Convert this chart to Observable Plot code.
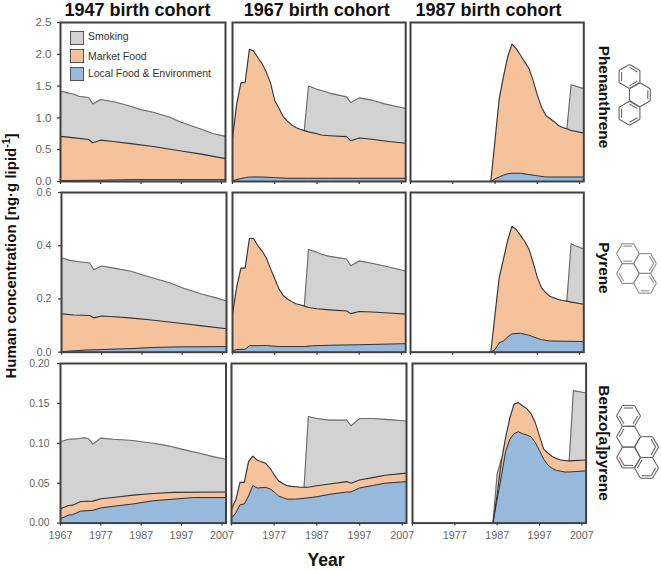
<!DOCTYPE html>
<html>
<head>
<meta charset="utf-8">
<script src="https://cdn.jsdelivr.net/npm/d3@7"></script>
<script src="https://cdn.jsdelivr.net/npm/@observablehq/plot@0.6"></script>
<style>
html,body{margin:0;padding:0;background:#fff}
#chart{position:relative;width:661px;height:570px;overflow:hidden;font-family:"Liberation Sans",Arial,sans-serif}
.lab{position:absolute;white-space:nowrap;line-height:1}
.title{font-weight:bold;font-size:18px;color:#111;transform:translateX(-50%)}
.rot{font-weight:bold;color:#111;font-size:15.4px;transform:translate(-50%,-50%) rotate(90deg)}
.leg{font-size:10.45px;color:#333}
.sw{position:absolute;width:14px;height:14px;border:1px solid #555;box-sizing:border-box}
sup{font-size:70%;line-height:0}
</style>
</head>
<body>
<div id="chart"></div>
<script>
// Cumulative tops of the stacked areas, as [year, value].
const phe47Total=[[1967,1.42],[1969,1.39],[1970,1.38],[1971.5,1.34],[1974,1.32],[1975,1.22],[1977,1.29],[1980.5,1.25],[1984,1.19],[1987,1.13],[1990,1.09],[1994,1.015],[1997,.93],[2002,.82],[2005,.75],[2008,.71]];
const phe47Market=[[1967,.71],[1970,.69],[1974,.66],[1975,.61],[1977,.65],[1980,.63],[1984,.6],[1990,.55],[1997,.48],[2002,.43],[2008,.36]];
const phe47Local=[[1967,.015],[1977,.02],[1985,.03],[2008,.03]];
const phe67Total=[[1984,.8],[1985,1.5],[1987,1.45],[1990,1.39],[1994,1.33],[1995,1.24],[1997,1.315],[2000,1.28],[2003,1.22],[2008,1.147]];
const phe67Market=[[1967,.68],[1968,1.22],[1969,1.55],[1970,1.56],[1971,2.08],[1972,2.05],[1973,1.95],[1974,1.85],[1975,1.72],[1976,1.55],[1977,1.27],[1978,1.15],[1979,1.02],[1980,.95],[1981,.89],[1982,.85],[1983,.82],[1984,.8],[1985,.78],[1987,.75],[1988,.73],[1990,.72],[1994,.705],[1995,.64],[1997,.685],[2000,.665],[2004,.63],[2008,.6]];
const phe67Local=[[1967,.01],[1968,.03],[1970,.06],[1971,.07],[1974,.07],[1977,.06],[1980,.05],[1985,.05],[1990,.05],[2008,.05]];
const phe87Total=[[2004,.83],[2005,1.52],[2008,1.46]];
const phe87Market=[[1986,0],[1987,.65],[1988,1.3],[1989,1.65],[1990,1.96],[1991,2.16],[1992,2.09],[1993,1.99],[1994,1.88],[1995,1.78],[1996,1.59],[1997,1.36],[1998,1.17],[1999,1.04],[2000,.99],[2001,.94],[2002,.88],[2003,.85],[2004,.83],[2005,.8],[2006,.79],[2008,.76]];
const phe87Local=[[1986,0],[1987,.04],[1988,.07],[1989,.1],[1990,.12],[1991,.13],[1993,.13],[1995,.11],[1997,.09],[1999,.07],[2008,.07]];

const pyr47Total=[[1967,.355],[1969,.345],[1971,.341],[1974,.335],[1975,.31],[1977,.324],[1980,.316],[1984,.305],[1987,.291],[1990,.278],[1994,.26],[1997,.242],[2002,.218],[2005,.206],[2008,.192]];
const pyr47Market=[[1967,.144],[1970,.14],[1974,.138],[1975,.129],[1977,.136],[1980,.133],[1984,.129],[1990,.12],[1997,.108],[2002,.099],[2008,.088]];
const pyr47Local=[[1967,.002],[1970,.005],[1973,.008],[1977,.01],[1985,.014],[1990,.018],[1997,.02],[2008,.021]];
const pyr67Total=[[1984,.173],[1985,.386],[1987,.376],[1988,.368],[1990,.36],[1994,.35],[1995,.325],[1997,.343],[2000,.334],[2004,.32],[2008,.305]];
const pyr67Market=[[1967,.144],[1968,.245],[1969,.316],[1970,.316],[1971,.427],[1972,.427],[1973,.4],[1974,.38],[1975,.355],[1976,.314],[1977,.276],[1978,.238],[1979,.213],[1980,.2],[1981,.19],[1982,.182],[1983,.178],[1984,.173],[1985,.168],[1987,.163],[1990,.159],[1994,.155],[1995,.145],[1997,.153],[2000,.151],[2004,.147],[2008,.143]];
const pyr67Local=[[1967,.005],[1968,.01],[1970,.011],[1971,.024],[1975,.025],[1978,.021],[1984,.021],[1986,.024],[1990,.026],[1997,.028],[2008,.032]];
const pyr87Total=[[2004,.192],[2005,.407],[2006,.4],[2008,.388]];
const pyr87Market=[[1986,0],[1987,.142],[1988,.281],[1989,.35],[1990,.42],[1991,.473],[1992,.461],[1993,.439],[1994,.417],[1995,.388],[1996,.338],[1997,.281],[1998,.242],[1999,.224],[2000,.21],[2001,.204],[2002,.198],[2003,.194],[2004,.192],[2005,.188],[2008,.18]];
const pyr87Local=[[1986,0],[1987,.01],[1988,.035],[1989,.042],[1990,.057],[1991,.069],[1993,.071],[1995,.064],[1997,.052],[1998,.047],[2000,.042],[2008,.04]];

const bap47Total=[[1967,.102],[1969,.105],[1971,.1056],[1973,.107],[1974,.1056],[1975,.099],[1977,.1065],[1980,.105],[1985,.1035],[1987,.102],[1990,.1],[1994,.0965],[1997,.0927],[2002,.087],[2005,.083],[2008,.08]];
const bap47Market=[[1967,.018],[1969,.022],[1970,.0225],[1972,.027],[1975,.0275],[1977,.0305],[1980,.032],[1985,.035],[1990,.037],[1995,.0385],[2008,.039]];
const bap47Local=[[1967,.0055],[1969,.01],[1970,.0105],[1972,.015],[1975,.016],[1977,.019],[1980,.021],[1985,.024],[1990,.028],[1995,.03],[2000,.032],[2008,.032]];
const bap67Total=[[1984,.045],[1985,.1336],[1987,.131],[1990,.129],[1994,.129],[1995,.122],[1997,.131],[2000,.131],[2003,.13],[2008,.128]];
const bap67Market=[[1967,.0175],[1968,.029],[1969,.051],[1970,.051],[1971,.077],[1972,.084],[1973,.079],[1974,.077],[1975,.075],[1976,.069],[1977,.0605],[1978,.053],[1979,.0497],[1980,.047],[1981,.046],[1982,.0455],[1983,.045],[1984,.045],[1985,.045],[1987,.0467],[1990,.049],[1994,.052],[1995,.05],[1997,.054],[2000,.057],[2003,.06],[2008,.0626]];
const bap67Local=[[1967,.006],[1968,.0125],[1969,.023],[1970,.024],[1971,.034],[1972,.047],[1973,.044],[1975,.0447],[1976,.043],[1977,.039],[1978,.034],[1979,.032],[1980,.03],[1982,.03],[1984,.031],[1987,.033],[1990,.036],[1994,.039],[1995,.039],[1997,.044],[2000,.047],[2003,.05],[2008,.052]];
const bap87Sliver=[[1986,0],[1987,.062],[1988,.08]];
const bap87Total=[[2004,.078],[2005,.166],[2008,.163]];
const bap87Market=[[1986,0],[1987,.036],[1988,.078],[1989,.107],[1990,.132],[1991,.149],[1992,.151],[1993,.147],[1994,.1435],[1995,.137],[1996,.126],[1997,.109],[1998,.0927],[1999,.0877],[2000,.0835],[2001,.081],[2002,.079],[2003,.0785],[2004,.078],[2008,.079]];
const bap87Local=[[1986,0],[1987,.03],[1988,.059],[1989,.09],[1990,.105],[1991,.112],[1992,.1145],[1993,.112],[1994,.1105],[1995,.108],[1996,.101],[1997,.0906],[1998,.08],[1999,.0727],[2000,.0685],[2001,.066],[2002,.065],[2003,.064],[2004,.064],[2008,.0655]];

const cohorts=["1947 birth cohort","1967 birth cohort","1987 birth cohort"];
const compounds=["Phenanthrene","Pyrene","Benzo[a]pyrene"];
const sources=["Smoking","Market Food","Local Food & Environment"];
const sourceFill=["#d2d2d2","#f5c29c","#96b9dc"];
const sourceStroke=["#6b6b6b","#333333","#333333"];
const yearTicks=[1967,1977,1987,1997,2007];
const yearLabels=[[1967,1977,1987,1997,2007],[1977,1987,1997,2007],[1977,1987,1997,2007]];
const yTicks=[[0,.5,1,1.5,2,2.5],[0,.2,.4,.6],[0,.05,.1,.15,.2]];
const yFormat=[".1f",".1f",".2f"];
const yDomain=[[0,2.5],[0,.6],[0,.2]];
const yFont=[11.6,10.6,10.4],yPad=[6,7,8];
const rowTop=[22,192,362.7],rowBottom=[181,351.7,522.3];
const colLeft=[[60,231.5,409.7],[60.5,231.5,409.7],[60,231,411.7]];
const colRight=[[225,404.7,583],[225.5,404.7,583],[225.5,406,585.3]];
const panels=[
 [[[phe47Total],phe47Market,phe47Local],[[phe67Total],phe67Market,phe67Local],[[phe87Total],phe87Market,phe87Local]],
 [[[pyr47Total],pyr47Market,pyr47Local],[[pyr67Total],pyr67Market,pyr67Local],[[pyr87Total],pyr87Market,pyr87Local]],
 [[[bap47Total],bap47Market,bap47Local],[[bap67Total],bap67Market,bap67Local],[[bap87Sliver,bap87Total],bap87Market,bap87Local]]
];

const root=document.getElementById("chart");
const year=d=>d[0], val=d=>d[1];
const ML=[52,10,10], MR=8, MT=4, MB=[6,6,26];

panels.forEach((row,r)=>row.forEach(([totals,market,local],c)=>{
  const w=colRight[r][c]-colLeft[r][c], h=rowBottom[r]-rowTop[r];
  const ml=ML[c], mb=MB[r];
  const marks=[];
  totals.forEach(s=>marks.push(Plot.areaY(s,{x:year,y:val,fill:sourceFill[0]})));
  marks.push(Plot.areaY(market,{x:year,y:val,fill:sourceFill[1]}));
  marks.push(Plot.areaY(local,{x:year,y:val,fill:sourceFill[2]}));
  totals.forEach(s=>marks.push(Plot.lineY(s,{x:year,y:val,stroke:sourceStroke[0],strokeWidth:1.1})));
  marks.push(Plot.lineY(market,{x:year,y:val,stroke:sourceStroke[1],strokeWidth:1.1}));
  marks.push(Plot.lineY(local,{x:year,y:val,stroke:sourceStroke[2],strokeWidth:1}));
  marks.push(Plot.axisX({ticks:yearTicks,tickSize:3,tickPadding:5,stroke:"#444",strokeWidth:1.3,
    fill:"#666",fontSize:10.8,label:null,
    tickFormat:d=>(r===2&&yearLabels[c].includes(d))?String(d):""}));
  if(c===0) marks.push(Plot.axisY({ticks:yTicks[r],tickSize:3,tickPadding:yPad[r],stroke:"#444",strokeWidth:1.3,
    fill:"#666",fontSize:yFont[r],label:null,tickFormat:d3.format(yFormat[r])}));
  marks.push(Plot.frame({stroke:"#404040",strokeWidth:2}));
  const svg=Plot.plot({
    width:w+ml+MR,height:h+MT+mb,
    marginLeft:ml,marginRight:MR,marginTop:MT,marginBottom:mb,
    x:{domain:[1967,2008],axis:null},
    y:{domain:yDomain[r],axis:null},
    style:{position:"absolute",left:(colLeft[r][c]-ml)+"px",top:(rowTop[r]-MT)+"px",background:"transparent",overflow:"visible",fontFamily:"'Liberation Sans',Arial,sans-serif",maxWidth:"none"},
    marks
  });
  root.appendChild(svg);
}));

function label(cls,html,x,y){
  const d=document.createElement("div");
  d.className="lab "+cls;d.innerHTML=html;d.style.left=x+"px";d.style.top=y+"px";
  root.appendChild(d);return d;
}
const titleX=[137.5,316.7,488.5];
cohorts.forEach((t,i)=>label("title",t,titleX[i],0.5));
const rotY=[96.5,268,442.5];
compounds.forEach((t,i)=>label("rot",t,604,rotY[i]));
const yl=label("","Human concentration [ng·g lipid<sup>-1</sup>]",10,256);
yl.style.cssText+="font-weight:bold;font-size:15px;color:#111;transform:translate(-50%,-50%) rotate(-90deg)";
const xl=label("","Year",326,552);
xl.style.cssText+="font-weight:bold;font-size:17.5px;color:#111;transform:translateX(-50%)";

const legY=[31,48.7,66.7], legTextY=[32,52,69];
sources.forEach((s,i)=>{
  const sw=document.createElement("div");sw.className="sw";
  sw.style.left="70px";sw.style.top=legY[i]+"px";sw.style.background=sourceFill[i];root.appendChild(sw);
  label("leg",s.replace("&","&amp;"),88,legTextY[i]);
});

// Molecule icons: hexagon rings at lattice centres, inner lines on selected edges
const phenRings=[[629,76,[0,2,4]],[639.4,94.3,[1]],[629,112.7,[0,2,4]]];
const pyrRings=[[627.4,253.2,[4,1]],[627.4,273,[2]],[644.5,263,[0,5]],[644.5,282.8,[1,5]]];
const bapRings=[[628,415.4,[4,0,2]],[628,436.2,[3]],[628,457,[2,1]],[646,446.6,[5,0]],[646,467.4,[0,1,3]]];
const molecules=[
  {rings:phenRings,radius:12,start:-90,stroke:"#666"},
  {rings:pyrRings,radius:11.4,start:0,stroke:"#8c8c8c"},
  {rings:bapRings,radius:12,start:0,stroke:"#666"}
];
const bonds=[];
molecules.forEach(m=>m.rings.forEach(([cx,cy,inner])=>{
  const v=d3.range(6).map(i=>{const a=(m.start+60*i)*Math.PI/180;return [cx+m.radius*Math.cos(a),cy+m.radius*Math.sin(a)];});
  v.forEach((p,i)=>{
    const q=v[(i+1)%6];
    bonds.push({x1:p[0],y1:p[1],x2:q[0],y2:q[1],stroke:m.stroke});
    if(inner.includes(i)){
      const s=0.76,a=[cx+(p[0]-cx)*s,cy+(p[1]-cy)*s],b=[cx+(q[0]-cx)*s,cy+(q[1]-cy)*s];
      bonds.push({x1:a[0],y1:a[1],x2:b[0],y2:b[1],stroke:m.stroke});
    }
  });
}));
root.appendChild(Plot.plot({
  width:71,height:570,margin:0,
  x:{domain:[590,661],axis:null},y:{domain:[570,0],axis:null},
  style:{position:"absolute",left:"590px",top:"0px",background:"transparent",maxWidth:"none"},
  marks:[Plot.link(bonds,{x1:"x1",y1:"y1",x2:"x2",y2:"y2",stroke:"stroke",strokeWidth:1.1})]
}));
</script>
</body>
</html>
